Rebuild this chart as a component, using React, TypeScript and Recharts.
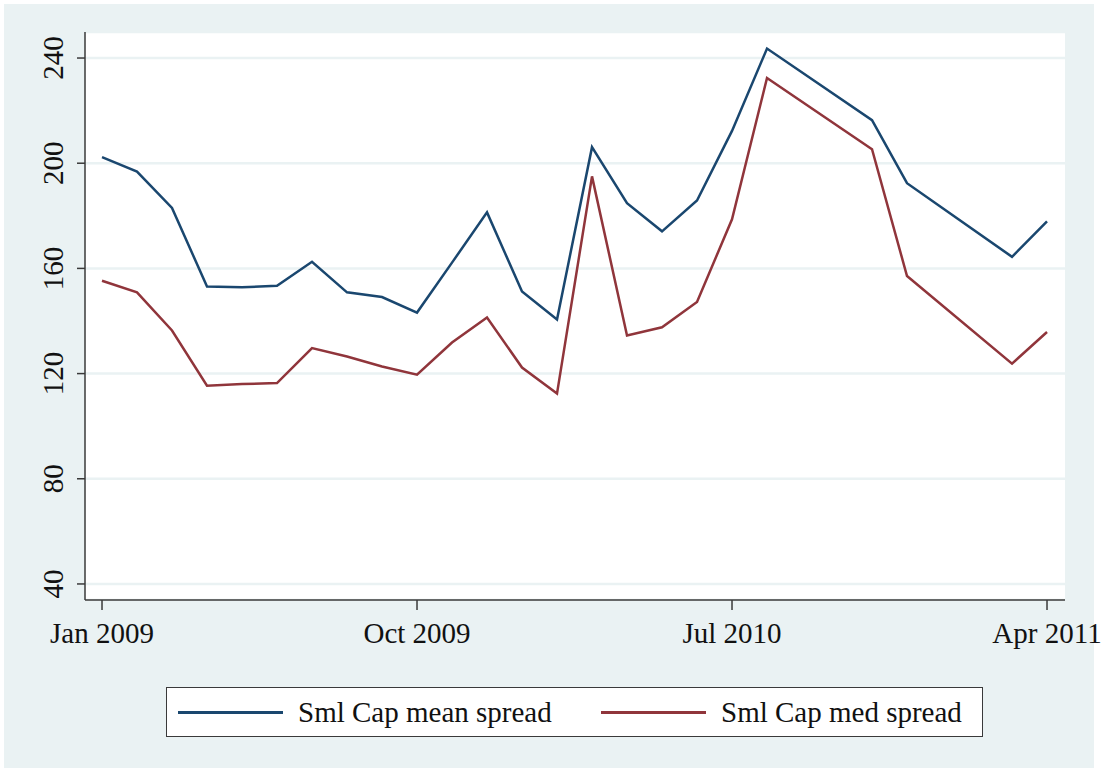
import { LineChart, Line, XAxis, YAxis, CartesianGrid, Legend } from "recharts";

// monthly observations (Stata %tm style), some months are missing
const months = [
  "2009m1", "2009m2", "2009m3", "2009m4", "2009m5", "2009m6", "2009m7", "2009m8",
  "2009m9", "2009m10", "2009m11", "2009m12", "2010m1", "2010m2", "2010m3", "2010m4",
  "2010m5", "2010m6", "2010m7", "2010m8", "2010m11", "2010m12", "2011m3", "2011m4",
];
const meanSpread = [
  202.3, 196.8, 183.0, 153.1, 152.8, 153.4, 162.5, 150.9, 149.1, 143.2, 162.2, 181.3,
  151.2, 140.6, 206.1, 184.8, 174.1, 185.8, 212.3, 243.6, 216.4, 192.4, 164.4, 177.9,
];
const medSpread = [
  155.3, 150.9, 136.4, 115.4, 116.0, 116.4, 129.7, 126.5, 122.7, 119.6, 131.8, 141.3,
  122.3, 112.4, 195.0, 134.5, 137.6, 147.2, 178.7, 232.4, 205.3, 157.1, 123.8, 135.8,
];
const xTicks = ["2009m1", "2009m10", "2010m7", "2011m4"];
const xTickLabels = ["Jan 2009", "Oct 2009", "Jul 2010", "Apr 2011"];
const yTicks = [40, 80, 120, 160, 200, 240];

const monthIndex = (m: string) => {
  const [y, mo] = m.split("m").map(Number);
  return (y - 2009) * 12 + (mo - 1);
};

const data = months.map((m, i) => ({
  t: monthIndex(m),
  mean: meanSpread[i],
  med: medSpread[i],
}));

const NAVY = "#1a476f";
const MAROON = "#90353b";
const BG = "#eaf2f3";
const AXIS = "#3a3a3a";
const FONT = "'Liberation Serif', 'Times New Roman', serif";

const YTick = (props: any) => {
  const { x, y, payload } = props;
  const tx = x - 12;
  return (
    <text
      x={tx}
      y={y}
      transform={`rotate(-90, ${tx}, ${y})`}
      textAnchor="middle"
      fontSize={29}
      fontFamily={FONT}
      fill="#111"
    >
      {payload.value}
    </text>
  );
};

const LegendBox = () => (
  <div
    style={{
      width: 817,
      height: 50,
      boxSizing: "border-box",
      border: `1.5px solid ${AXIS}`,
      background: "#fff",
      display: "flex",
      alignItems: "center",
      fontFamily: FONT,
      fontSize: 29,
      color: "#111",
    }}
  >
    <div style={{ width: 434, display: "flex", alignItems: "center", paddingLeft: 11, boxSizing: "border-box" }}>
      <span style={{ width: 105, height: 3, background: NAVY, display: "inline-block" }} />
      <span style={{ marginLeft: 15 }}>Sml Cap mean spread</span>
    </div>
    <div style={{ display: "flex", alignItems: "center" }}>
      <span style={{ width: 105, height: 3, background: MAROON, display: "inline-block" }} />
      <span style={{ marginLeft: 15 }}>Sml Cap med spread</span>
    </div>
  </div>
);

export default function App() {
  return (
    <div style={{ position: "absolute", left: 0, top: 0, width: 1107, height: 772, background: "#fff" }}>
      <div style={{ position: "absolute", left: 4, top: 4, width: 1090, height: 764, background: BG }} />
      <div style={{ position: "absolute", left: 0, top: 0 }}>
        <LineChart
          width={1107}
          height={772}
          data={data}
          margin={{ top: 32, right: 42, left: 25, bottom: 112 }}
        >
          <CartesianGrid vertical={false} stroke={BG} strokeWidth={2.5} fill="#fff" />
          <XAxis
            type="number"
            dataKey="t"
            domain={[-0.486, 27.514]}
            ticks={xTicks.map(monthIndex)}
            tickFormatter={(v: number) => xTickLabels[xTicks.map(monthIndex).indexOf(v)] ?? ""}
            allowDataOverflow
            height={60}
            tickSize={10}
            tickMargin={12}
            stroke={AXIS}
            strokeWidth={1.5}
            tick={{ fontSize: 29, fontFamily: FONT, fill: "#111" }}
            interval={0}
          />
          <YAxis
            type="number"
            domain={[33.9, 249.9]}
            ticks={yTicks}
            allowDataOverflow
            width={60}
            tickSize={8}
            stroke={AXIS}
            strokeWidth={1.5}
            tick={<YTick />}
            interval={0}
          />
          <Legend
            layout="horizontal"
            verticalAlign="middle"
            align="center"
            wrapperStyle={{ position: "absolute", left: 166, top: 687, width: 817, height: 50 }}
            content={() => <LegendBox />}
          />
          <Line
            type="linear"
            dataKey="mean"
            name="Sml Cap mean spread"
            stroke={NAVY}
            strokeWidth={2.5}
            dot={false}
            isAnimationActive={false}
          />
          <Line
            type="linear"
            dataKey="med"
            name="Sml Cap med spread"
            stroke={MAROON}
            strokeWidth={2.5}
            dot={false}
            isAnimationActive={false}
          />
        </LineChart>
      </div>
    </div>
  );
}
